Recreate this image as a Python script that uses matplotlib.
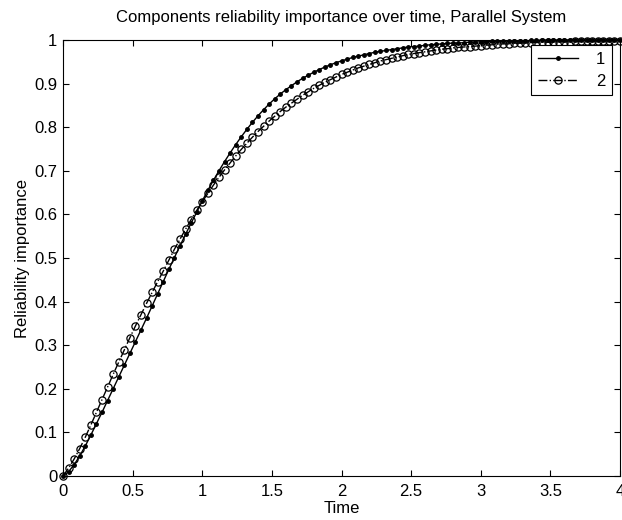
import matplotlib
matplotlib.use("Agg")
import matplotlib.pyplot as plt
import numpy as np

plt.rcParams["font.family"] = ["Liberation Sans", "DejaVu Sans"]

# sample times (step 0.04 from 0 to 4)
time = np.linspace(0, 4, 101)

# component 1 (dots, solid)
imp1 = [0.000, 0.010, 0.026, 0.046, 0.069, 0.094, 0.120, 0.146, 0.173, 0.200,
        0.227, 0.254, 0.281, 0.308, 0.335, 0.362, 0.390, 0.418, 0.446, 0.474,
        0.501, 0.528, 0.554, 0.580, 0.605, 0.631, 0.655, 0.678, 0.700, 0.721,
        0.741, 0.760, 0.778, 0.795, 0.811, 0.826, 0.840, 0.853, 0.865, 0.876,
        0.886, 0.895, 0.904, 0.912, 0.919, 0.926, 0.932, 0.938, 0.943, 0.948,
        0.952, 0.956, 0.960, 0.963, 0.966, 0.969, 0.972, 0.974, 0.976, 0.978,
        0.980, 0.982, 0.984, 0.985, 0.986, 0.988, 0.989, 0.990, 0.991, 0.992,
        0.993, 0.993, 0.994, 0.995, 0.995, 0.996, 0.996, 0.997, 0.997, 0.997,
        0.998, 0.998, 0.998, 0.998, 0.999, 0.999, 0.999, 0.999, 0.999, 0.999,
        0.999, 1.000, 1.000, 1.000, 1.000, 1.000, 1.000, 1.000, 1.000, 1.000,
        1.000]

# component 2 (open circles, dash-dot)
imp2 = [0.000, 0.018, 0.039, 0.063, 0.089, 0.117, 0.146, 0.175, 0.204, 0.233,
        0.261, 0.289, 0.317, 0.344, 0.370, 0.396, 0.421, 0.446, 0.470, 0.495,
        0.520, 0.543, 0.566, 0.588, 0.609, 0.629, 0.648, 0.667, 0.685, 0.702,
        0.718, 0.734, 0.749, 0.763, 0.777, 0.790, 0.802, 0.814, 0.825, 0.836,
        0.846, 0.855, 0.864, 0.873, 0.881, 0.889, 0.896, 0.903, 0.909, 0.915,
        0.921, 0.926, 0.931, 0.936, 0.940, 0.944, 0.948, 0.952, 0.955, 0.958,
        0.961, 0.964, 0.967, 0.969, 0.971, 0.973, 0.975, 0.977, 0.979, 0.980,
        0.982, 0.983, 0.984, 0.985, 0.986, 0.987, 0.988, 0.989, 0.990, 0.991,
        0.991, 0.992, 0.993, 0.993, 0.994, 0.994, 0.995, 0.995, 0.995, 0.996,
        0.996, 0.996, 0.997, 0.997, 0.997, 0.997, 0.998, 0.998, 0.998, 0.998,
        0.998]

xticks = [0, 0.5, 1, 1.5, 2, 2.5, 3, 3.5, 4]
xticklabels = ["0", "0.5", "1", "1.5", "2", "2.5", "3", "3.5", "4"]
yticks = [0, 0.1, 0.2, 0.3, 0.4, 0.5, 0.6, 0.7, 0.8, 0.9, 1]
yticklabels = ["0", "0.1", "0.2", "0.3", "0.4", "0.5", "0.6", "0.7", "0.8", "0.9", "1"]

fig = plt.figure(figsize=(6.22, 5.2), dpi=100)
ax = fig.add_axes([63/622, 44/520, 557/622, 436/520])

ax.plot(time, imp1, "k.-", lw=1.0, ms=5, label="1", clip_on=False)
ax.plot(time, imp2, "k-.", lw=1.0, marker="o", ms=5.2, mfc="none", mew=0.9, label="2", clip_on=False)

ax.set_xlim(0, 4); ax.set_ylim(0, 1)
ax.set_xticks(xticks); ax.set_xticklabels(xticklabels)
ax.set_yticks(yticks); ax.set_yticklabels(yticklabels)
ax.tick_params(direction="in", top=True, right=True, labelsize=12, length=4.5, width=0.8)
ax.tick_params(axis="x", pad=6)
ax.tick_params(axis="y", pad=4)
for s in ax.spines.values(): s.set_linewidth(0.8)

ax.set_title("Components reliability importance over time, Parallel System", fontsize=12, pad=13)
ax.set_xlabel("Time", fontsize=12, labelpad=1)
ax.set_ylabel("Reliability importance", fontsize=12, labelpad=3)

leg = ax.legend(loc="upper right", bbox_to_anchor=(0.986, 0.988), borderaxespad=0, fancybox=False,
                edgecolor="black", framealpha=1, fontsize=12, handlelength=2.4, borderpad=0.4,
                labelspacing=0.4, handletextpad=1.1)
leg.get_frame().set_linewidth(0.8)

fig.savefig("out.png", dpi=100, facecolor="white")
